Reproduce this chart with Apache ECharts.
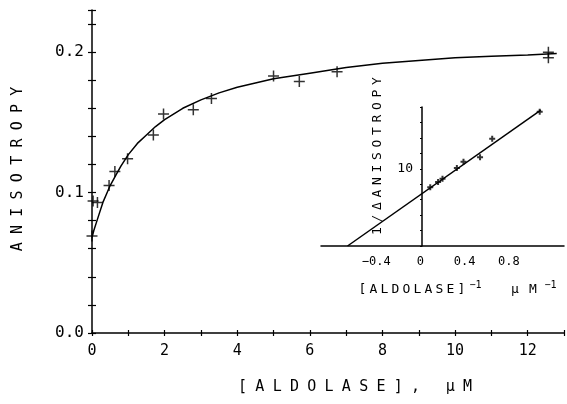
<!DOCTYPE html>
<html>
	<head>
		<meta charset="UTF-8">
		<title>Anisotropy vs aldolase</title>
		<style>
			html, body { margin: 0; padding: 0; background: #fff; }
			#chart { width: 567px; height: 404px; }
		</style>
	</head>
	<body>
		<div id="chart"></div>

		<script src="https://cdn.jsdelivr.net/npm/echarts/dist/echarts.min.js"></script>
		<script>
			// main plot: measured points
			var mainX = [0, 0.03, 0.15, 0.47, 0.63, 0.98, 1.69, 1.97, 2.79, 3.29, 5.0, 5.71, 6.75, 12.57, 12.57];
			var mainY = [0.069, 0.094, 0.093, 0.105, 0.115, 0.124, 0.141, 0.156, 0.159, 0.167, 0.183, 0.179, 0.186, 0.200, 0.196];
			// main plot: drawn binding curve
			var curveX = [0, 0.05, 0.1, 0.2, 0.3, 0.4, 0.5, 0.65, 0.8, 1, 1.25, 1.5, 1.75, 2, 2.5, 3, 3.5, 4, 4.5, 5, 6, 7, 8, 9, 10, 11, 12, 12.8];
			var curveY = [0.068, 0.073, 0.077, 0.085, 0.093, 0.099, 0.105, 0.112, 0.119, 0.127, 0.135, 0.141, 0.147, 0.152, 0.160, 0.166, 0.171, 0.175, 0.178, 0.181, 0.185, 0.189, 0.192, 0.194, 0.196, 0.197, 0.198, 0.199];
			// inset: double reciprocal points and fitted line
			var invX = [0.089, 0.16, 0.20, 0.33, 0.39, 0.54, 0.65, 1.08];
			var invY = [7.6, 8.3, 8.7, 10.1, 10.9, 11.5, 13.9, 17.4];
			var fitX = [-0.66, 1.09];
			var fitY = [0, 17.6];
			// tick labels
			var mainXTicks = [0, 2, 4, 6, 8, 10, 12];
			var mainYTicks = [0, 0.1, 0.2];
			var mainYText = ['0.0', '0.1', '0.2'];
			var invXTicks = [-0.4, 0, 0.4, 0.8];
			var invXText = ['\u22120.4', '0', '0.4', '0.8'];
			var invYTicks = [10];

			var FONT = 'DejaVu Sans Mono';
			var PLUS = 'path://M0,-5L0,5M-5,0L5,0';

			function pairs(xs, ys) {
				var out = [];
				for (var i = 0; i < xs.length; i++) out.push([xs[i], ys[i]]);
				return out;
			}
			// label only where a tick value is listed
			function pick(vals, texts) {
				return function (v) {
					for (var i = 0; i < vals.length; i++) {
						if (Math.abs(v - vals[i]) < 1e-6) return texts ? texts[i] : String(vals[i]);
					}
					return '';
				};
			}
			// spread letters like the plotter lettering
			function spread(s, key) {
				return s.split('').map(function (ch) { return '{' + key + '|' + ch + '}'; }).join('');
			}

			var myChart = echarts.init(document.getElementById('chart'));

			var tickStyle = { color: '#000', width: 1.2 };
			var lineStyle = { color: '#000', width: 1.5 };

			var option = {
				backgroundColor: '#fff',
				animation: false,
				grid: [
					{ left: 92, right: 0, top: 10, bottom: 71 },
					{ left: 321, right: 0, top: 107, bottom: 158 }
				],
				xAxis: [
					{
						gridIndex: 0, type: 'value', min: 0, max: 13, interval: 1,
						axisLine: { lineStyle: lineStyle },
						axisTick: { length: 3, lineStyle: tickStyle },
						splitLine: { show: false },
						axisLabel: { formatter: pick(mainXTicks), color: '#000', fontFamily: FONT, fontSize: 15, margin: 11 }
					},
					{
						gridIndex: 1, type: 'value', min: -0.9, max: 1.3, interval: 0.1,
						axisLine: { onZero: false, lineStyle: lineStyle },
						axisTick: { show: false },
						splitLine: { show: false },
						axisLabel: { formatter: pick(invXTicks, invXText), color: '#000', fontFamily: FONT, fontSize: 12, margin: 10 }
					},
					{
						// ticks poking inside, so the marks cross the axis
						gridIndex: 0, type: 'value', position: 'bottom', min: 0, max: 13, interval: 1,
						axisLine: { show: false },
						axisTick: { inside: true, length: 3, lineStyle: tickStyle },
						splitLine: { show: false },
						axisLabel: { show: false }
					}
				],
				yAxis: [
					{
						gridIndex: 0, type: 'value', min: 0, max: 0.23, interval: 0.02,
						axisLine: { show: true, lineStyle: lineStyle },
						axisTick: { show: true, length: 4, lineStyle: tickStyle },
						splitLine: { show: false },
						axisLabel: { formatter: pick(mainYTicks, mainYText), color: '#000', fontFamily: FONT, fontSize: 16, margin: 8 }
					},
					{
						// shifted right so it stands at x = 0 of the inset
						gridIndex: 1, type: 'value', min: 0, max: 18, interval: 2, offset: -101,
						axisLine: { show: true, onZero: false, lineStyle: lineStyle },
						axisTick: { show: true, length: 2, lineStyle: tickStyle },
						splitLine: { show: false },
						axisLabel: { formatter: pick(invYTicks), color: '#000', fontFamily: FONT, fontSize: 13, margin: 9 }
					},
					{
						gridIndex: 0, type: 'value', position: 'left', min: 0, max: 0.23, interval: 0.02,
						axisLine: { show: false },
						axisTick: { show: true, inside: true, length: 4, lineStyle: tickStyle },
						splitLine: { show: false },
						axisLabel: { show: false }
					}
				],
				series: [
					{
						type: 'line', xAxisIndex: 0, yAxisIndex: 0,
						data: pairs(curveX, curveY),
						showSymbol: false,
						lineStyle: { color: '#000', width: 1.5 }
					},
					{
						type: 'scatter', xAxisIndex: 0, yAxisIndex: 0,
						data: pairs(mainX, mainY),
						symbol: PLUS, symbolSize: 11,
						itemStyle: { color: '#000', borderColor: '#000', borderWidth: 1.5 }
					},
					{
						type: 'line', xAxisIndex: 1, yAxisIndex: 1,
						data: pairs(fitX, fitY),
						showSymbol: false,
						lineStyle: { color: '#000', width: 1.5 }
					},
					{
						type: 'scatter', xAxisIndex: 1, yAxisIndex: 1,
						data: pairs(invX, invY),
						symbol: PLUS, symbolSize: 6,
						itemStyle: { color: '#000', borderColor: '#000', borderWidth: 2 }
					}
				],
				graphic: [
					{
						type: 'text', x: 18, y: 169, rotation: Math.PI / 2,
						style: {
							text: spread('ANISOTROPY', 'a'), align: 'center', verticalAlign: 'middle',
							rich: { a: { width: 17.3, align: 'center', fontSize: 15, fontFamily: FONT, fill: '#000' } }
						}
					},
					{
						type: 'text', x: 355, y: 387,
						style: {
							text: spread('[ALDOLASE], \u03bcM', 'a'), align: 'center', verticalAlign: 'middle',
							rich: { a: { width: 17.3, align: 'center', fontSize: 15, fontFamily: FONT, fill: '#000' } }
						}
					},
					{
						type: 'text', x: 378, y: 156, rotation: Math.PI / 2,
						style: {
							text: spread('1/\u0394ANISOTROPY', 'b'), align: 'center', verticalAlign: 'middle',
							rich: { b: { width: 12.5, align: 'center', fontSize: 13, fontFamily: FONT, fill: '#000' } }
						}
					},
					{
						type: 'text', x: 357, y: 290,
						style: {
							text: spread('[ALDOLASE]', 'b') + '{s|\u22121}{g| }' + '{m|\u03bc}{m|M}' + '{s|\u22121}',
							align: 'left', verticalAlign: 'middle',
							rich: {
								b: { width: 11, align: 'center', fontSize: 13, fontFamily: FONT, fill: '#000', lineHeight: 20 },
								m: { width: 18, align: 'center', fontSize: 13, fontFamily: FONT, fill: '#000', lineHeight: 20 },
								g: { width: 22, fontSize: 12, lineHeight: 20 },
								s: { width: 17, align: 'center', fontSize: 10, fontFamily: FONT, fill: '#000', verticalAlign: 'top' }
							}
						}
					}
				]
			};

			myChart.setOption(option);
		</script>
	</body>
</html>
